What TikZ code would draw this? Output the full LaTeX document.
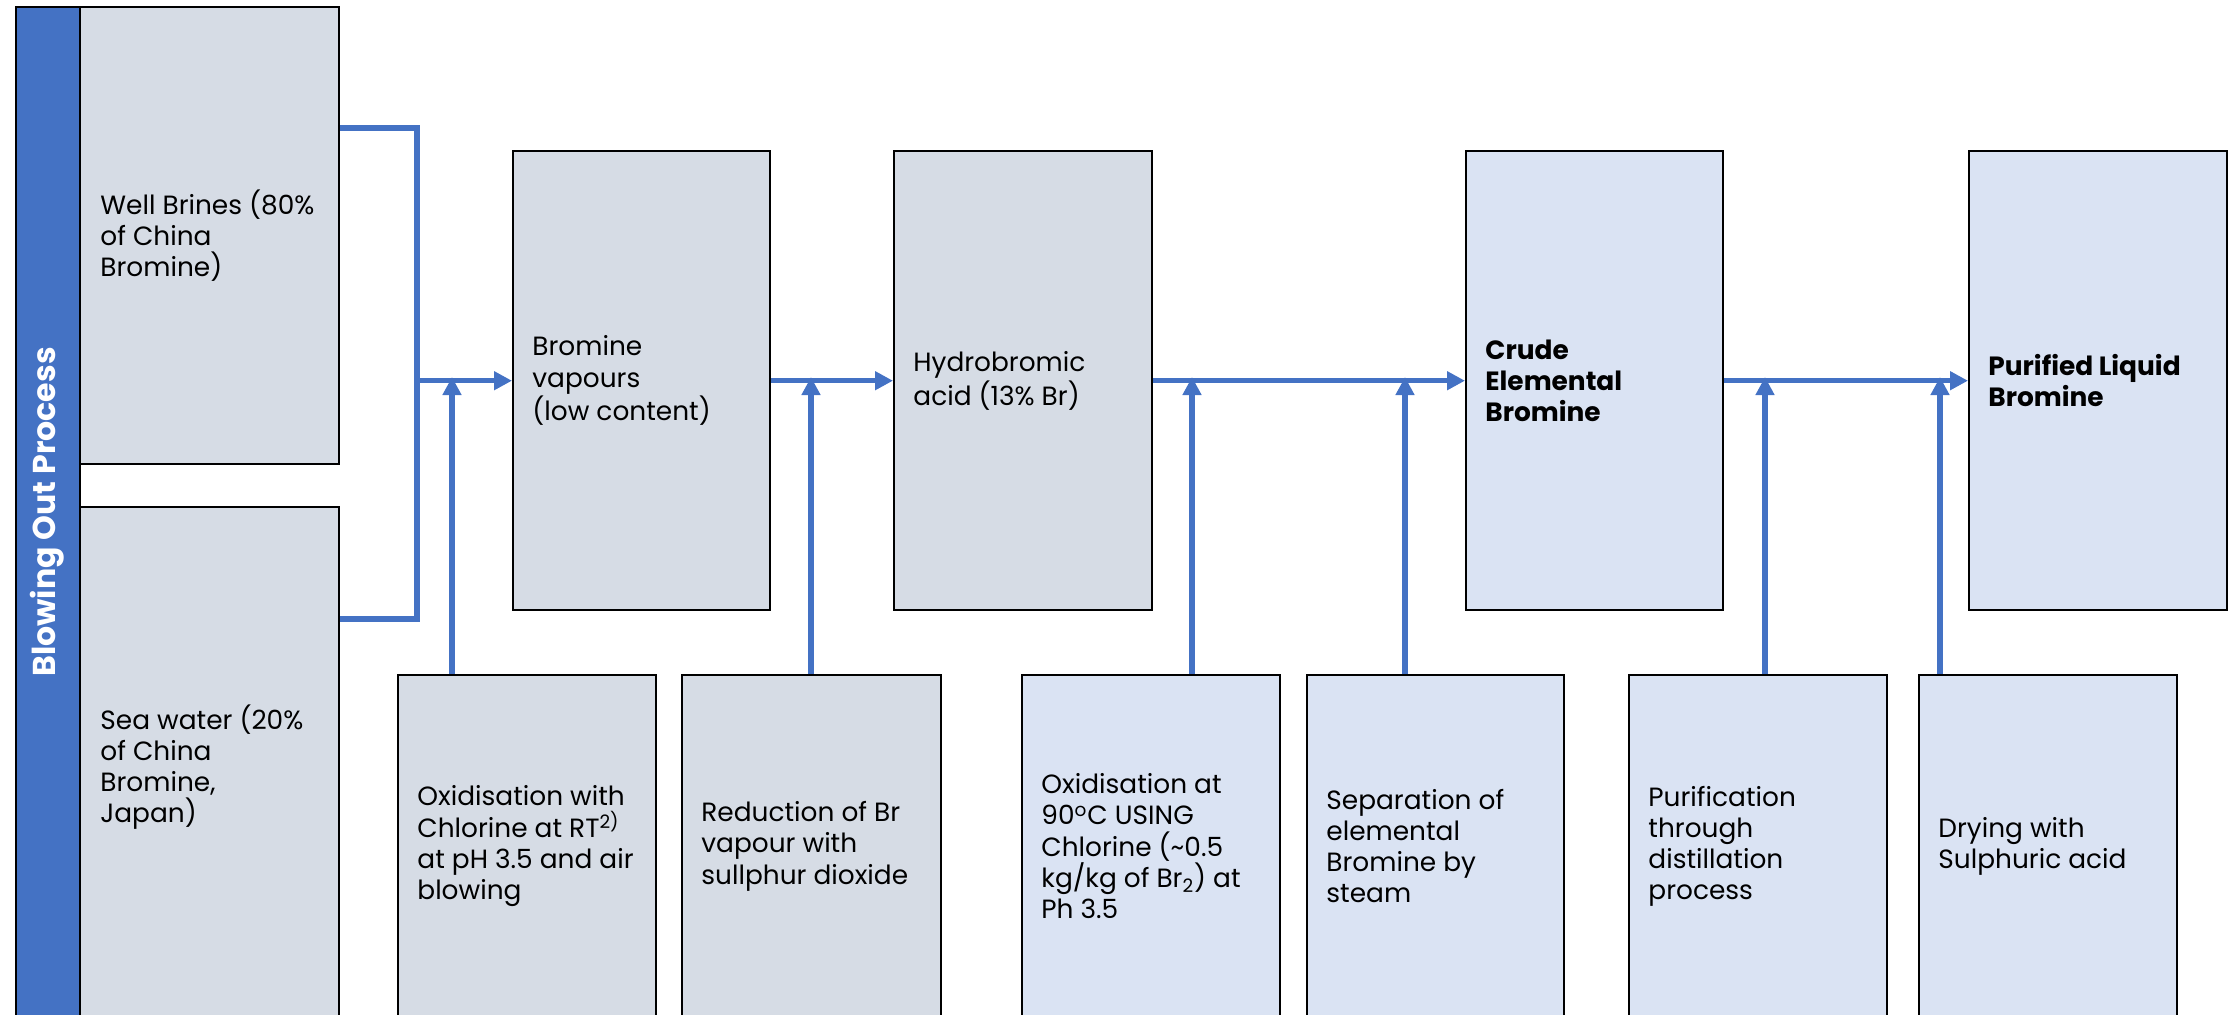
\documentclass[tikz,border=0pt]{standalone}
\usepackage{fontspec}
\setmainfont{Poppins}
\usetikzlibrary{arrows.meta}
\definecolor{myblue}{HTML}{4472C4}
\definecolor{boxgrey}{HTML}{D6DCE5}
\definecolor{boxblue}{HTML}{DAE3F3}
\tikzset{
  sz/.style 2 args={minimum width=#1*0.5pt, minimum height=#2*0.5pt},
  basebox/.style={draw=black, line width=1.2pt, anchor=north west, inner sep=0pt},
  gbox/.style={basebox, fill=boxgrey},
  lbox/.style={basebox, fill=boxblue},
  txt/.style={anchor=west, inner sep=0pt, align=left, font=\fontsize{13.2pt}{15.6pt}\selectfont},
  btxt/.style={txt, font=\bfseries\fontsize{13.2pt}{15.6pt}\selectfont},
  conn/.style={draw=myblue, line width=2.75pt},
  arr/.style={conn, -{Triangle[length=9pt,width=9pt]}}
}
\begin{document}
\begin{tikzpicture}[x=0.5pt,y=-0.5pt]
\useasboundingbox (0,0) rectangle (2230,1014);
\clip (0,0) rectangle (2230,1014);
% left bar
\node[basebox, fill=myblue, sz={64}{1030}] (bar) at (15,6) {};
\node[rotate=90, text=white, inner sep=0pt, font=\bfseries\fontsize{15.8pt}{18pt}\selectfont] (bart) at (47,512) {Blowing Out Process};
% source boxes
\node[gbox, sz={259}{457}] (wb) at (79,6) {};
\node[txt] (wbt) at ([xshift=10.5pt]wb.west) {Well Brines (80\%\\of China\\Bromine)};
\node[gbox, sz={259}{520}] (sw) at (79,506) {};
\node[txt] (swt) at ([xshift=10.5pt]sw.west) {Sea water (20\%\\of China\\Bromine,\\Japan)};
% main boxes
\node[gbox, sz={257}{459}] (bv) at (512,150) {};
\node[txt] (bvt) at ([xshift=10pt]bv.west) {Bromine\\vapours\\(low content)};
\node[gbox, sz={258}{459}] (hb) at (893,150) {};
\node[txt] (hbt) at ([xshift=10pt]hb.west) {Hydrobromic\\acid (13\% Br)};
\node[lbox, sz={257}{459}] (cr) at (1465,150) {};
\node[btxt] (crt) at ([xshift=10pt]cr.west) {Crude\\Elemental\\Bromine};
\node[lbox, sz={258}{459}] (pu) at (1968,150) {};
\node[btxt] (put) at ([xshift=10pt]pu.west) {Purified Liquid\\Bromine};
% bottom boxes
\node[gbox, sz={258}{342}] (ox1) at (397,674) {};
\node[txt] (ox1t) at ([xshift=10pt]ox1.west) {Oxidisation with\\Chlorine at RT\textsuperscript{2)}\\at pH 3.5 and air\\blowing};
\node[gbox, sz={259}{342}] (red) at (681,674) {};
\node[txt] (redt) at ([xshift=10pt]red.west) {Reduction of Br\\vapour with\\sullphur dioxide};
\node[lbox, sz={258}{342}] (ox2) at (1021,674) {};
\node[txt] (ox2t) at ([xshift=10pt]ox2.west) {Oxidisation at\\90\textsuperscript{o}C USING\\Chlorine (\textasciitilde0.5\\kg/kg of Br\textsubscript{2}) at\\Ph 3.5};
\node[lbox, sz={257}{342}] (sep) at (1306,674) {};
\node[txt] (sept) at ([xshift=10pt]sep.west) {Separation of\\elemental\\Bromine by\\steam};
\node[lbox, sz={258}{342}] (pf) at (1628,674) {};
\node[txt] (pft) at ([xshift=10pt]pf.west) {Purification\\through\\distillation\\process};
\node[lbox, sz={258}{342}] (dr) at (1918,674) {};
\node[txt] (drt) at ([xshift=10pt]dr.west) {Drying with\\Sulphuric acid};
% junction coordinates
\coordinate (bt) at (417,128);
\coordinate (bb) at (417,619);
\coordinate (a1) at (452,377);
\coordinate (a2) at (811,377);
\coordinate (a3) at (1192,377);
\coordinate (a4) at (1405,377);
\coordinate (a5) at (1765,377);
\coordinate (a6) at (1940,377);
% bracket
\draw[conn] (wb.east |- bt) -- (bt) -- (bb) -- (sw.east |- bb);
\draw[arr] (bt |- bv.west) -- (bv.west);
% main flow
\draw[arr] (bv.east) -- (hb.west);
\draw[arr] (hb.east) -- (cr.west);
\draw[arr] (cr.east) -- (pu.west);
% inputs
\draw[arr] (ox1.north -| a1) -- (a1);
\draw[arr] (red.north -| a2) -- (a2);
\draw[arr] (ox2.north -| a3) -- (a3);
\draw[arr] (sep.north -| a4) -- (a4);
\draw[arr] (pf.north -| a5) -- (a5);
\draw[arr] (dr.north -| a6) -- (a6);
\end{tikzpicture}
\end{document}
